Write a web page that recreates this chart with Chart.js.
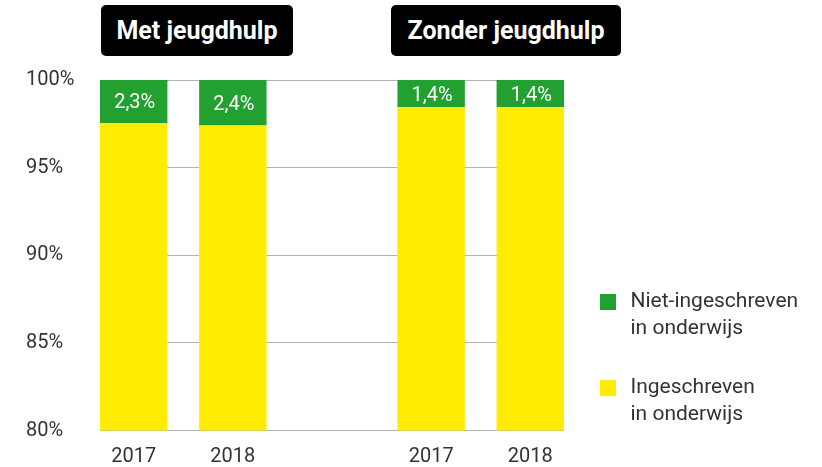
<!DOCTYPE html>
<html><head><meta charset="utf-8">
<script src="https://cdn.jsdelivr.net/npm/chart.js@4.4.1/dist/chart.umd.min.js"></script>
<style>
html,body{margin:0;padding:0;background:#fff;overflow:hidden;width:822px;height:467px;}
#wrap{position:relative;width:822px;height:467px;overflow:hidden;}
#c{position:absolute;left:0;top:0;}
.grp{position:absolute;top:5px;height:51px;background:#000;color:#fff;border-radius:5px;
  font-family:Roboto,sans-serif;font-weight:700;font-size:25px;line-height:51px;text-align:center;white-space:nowrap;}
</style></head><body>
<div id="wrap"><canvas id="c" width="822" height="467"></canvas></div>
<script>
// ---- data ----
const categories = ['2017', '2018', '', '2017', '2018'];
const groupTitles = ['Met jeugdhulp', 'Zonder jeugdhulp'];
const ingeschreven = [97.55, 97.4, null, 98.45, 98.45];
const nietIngeschreven = [2.45, 2.6, null, 1.55, 1.55];
const nietLabels = ['2,3%', '2,4%', '', '1,4%', '1,4%'];
const yTicks = [80, 85, 90, 95, 100];
const seriesNames = ['Ingeschreven in onderwijs', 'Niet-ingeschreven in onderwijs'];
const legendLines = [['Ingeschreven', 'in onderwijs'], ['Niet-ingeschreven', 'in onderwijs']];

// ---- styles ----
const GREEN = '#22a030';
const YELLOW = '#ffec00';
const TEXT = '#333333';
const GRID = '#b4b4b4';

// group title boxes (annotation, real text)
const titleBoxes = [{left: 101, width: 192}, {left: 391, width: 230}];
groupTitles.forEach((t, i) => {
  const d = document.createElement('div');
  d.className = 'grp';
  d.textContent = t;
  d.style.left = titleBoxes[i].left + 'px';
  d.style.width = titleBoxes[i].width + 'px';
  document.getElementById('wrap').appendChild(d);
});

Chart.defaults.font.family = 'Roboto';
Chart.defaults.color = TEXT;

const toPoints = arr => categories.map((c, i) => ({x: i, y: arr[i]}));

const barLabelPlugin = {
  id: 'barLabels',
  afterDatasetsDraw(chart) {
    const meta = chart.getDatasetMeta(1);
    const ctx = chart.ctx;
    ctx.save();
    ctx.font = '20px Roboto';
    ctx.fillStyle = '#ffffff';
    ctx.textAlign = 'center';
    ctx.textBaseline = 'middle';
    meta.data.forEach((el, i) => {
      if (!nietLabels[i] || nietIngeschreven[i] == null) return;
      const p = el.getProps(['x', 'y', 'base'], true);
      ctx.fillText(nietLabels[i], p.x + 1, (p.y + p.base) / 2 + 2);
    });
    ctx.restore();
  }
};

new Chart(document.getElementById('c'), {
  type: 'bar',
  data: {
    datasets: [
      {label: seriesNames[0], data: toPoints(ingeschreven), backgroundColor: YELLOW, borderWidth: 0},
      {label: seriesNames[1], data: toPoints(nietIngeschreven), backgroundColor: GREEN, borderWidth: 0}
    ]
  },
  options: {
    responsive: false,
    animation: false,
    events: [],
    categoryPercentage: 1,
    barPercentage: 0.68,
    layout: {padding: {top: 80, left: 26, right: 23, bottom: 5}},
    scales: {
      x: {
        type: 'linear',
        offset: false,
        stacked: true,
        min: -0.34,
        max: 4.34,
        afterBuildTicks: s => { s.ticks = categories.map((c, i) => ({value: i})); },
        afterFit: s => { s.height = 31.5; },
        grid: {display: false, drawTicks: false},
        border: {display: false},
        ticks: {
          autoSkip: false,
          maxRotation: 0,
          padding: 14,
          font: {size: 20, lineHeight: 1.2},
          color: TEXT,
          callback: v => categories[v] ?? ''
        }
      },
      y: {
        stacked: true,
        min: 80,
        max: 100,
        afterBuildTicks: s => { s.ticks = yTicks.map(v => ({value: v})); },
        afterFit: s => { s.width = 74; },
        grid: {color: GRID, lineWidth: 1, drawTicks: false},
        border: {display: false},
        ticks: {
          crossAlign: 'far',
          font: {size: 20},
          color: TEXT,
          callback: v => v + '%'
        }
      }
    },
    plugins: {
      tooltip: {enabled: false},
      legend: {
        position: 'right',
        align: 'end',
        reverse: true,
        maxWidth: 235,
        labels: {
          boxWidth: 24,
          boxHeight: 24,
          padding: 32,
          color: TEXT,
          font: {size: 21, lineHeight: 27 / 21},
          generateLabels: chart => {
            const items = Chart.defaults.plugins.legend.labels.generateLabels(chart);
            items.forEach(it => {
              it.text = legendLines[it.datasetIndex];
              it.lineWidth = 8;
              it.strokeStyle = '#ffffff';
            });
            return items;
          }
        }
      }
    }
  },
  plugins: [barLabelPlugin]
});
</script>
</body></html>
